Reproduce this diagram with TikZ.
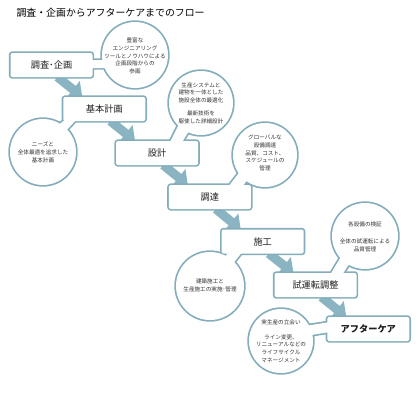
\documentclass[tikz,border=0pt]{standalone}
\usepackage{fontspec}
\setmainfont{Noto Sans CJK JP}
\usetikzlibrary{arrows.meta,backgrounds}
\definecolor{edgec}{HTML}{84ADBB}
\definecolor{flowc}{HTML}{8AB4C1}
\definecolor{inkc}{HTML}{1E1E1E}
\definecolor{notec}{HTML}{333333}
\begin{document}
\begin{tikzpicture}[x=1pt,y=-1pt,
  boxlabel/.style={minimum width=82pt,minimum height=24pt,inner sep=0pt,outer sep=0pt,
    text=inkc,font=\fontsize{9.2}{11}\selectfont},
  bubbletext/.style={align=center,inner sep=0pt,text=notec,font=\fontsize{5.6}{7.7}\selectfont},
  outline/.style={draw=edgec,line width=3.4pt,line join=round},
  filler/.style={fill=white},
  flowarrow/.style={draw=flowc,line width=9pt,-{Triangle[length=12pt,width=21pt]}},
]
\useasboundingbox (0,0) rectangle (420,400);

\node[anchor=west,text=black,font=\fontsize{9.9}{11}\selectfont] (title) at (13,13) {調査・企画からアフターケアまでのフロー};

% boxes
\node[boxlabel] (b1) at (51.5,65) {調査･企画};
\node[boxlabel] (b2) at (104.3,109) {基本計画};
\node[boxlabel] (b3) at (157.1,153) {設計};
\node[boxlabel] (b4) at (209.9,197) {調達};
\node[boxlabel] (b5) at (262.7,241.5) {施工};
\node[boxlabel] (b6) at (315.5,285) {試運転調整};
\node[boxlabel,font=\fontsize{9.2}{11}\selectfont\bfseries] (b7) at (368.3,329) {アフターケア};

% bubble texts
\node[bubbletext] (c1) at (135,56) {豊富な\\エンジニアリング\\ツールとノウハウによる\\企画段階からの\\参画};
\node[bubbletext] (c2) at (201,103) {生産システムと\\建物を一体とした\\施設全体の最適化\\[5pt]最新技術を\\駆使した詳細設計};
\node[bubbletext] (c3) at (43,152.5) {ニーズと\\全体最適を追求した\\基本計画};
\node[bubbletext] (c4) at (265,153) {グローバルな\\設備調達\\品質、コスト、\\スケジュールの\\管理};
\node[bubbletext] (c5) at (365,237) {各設備の検証\\[9pt]全体の試運転による\\品質管理};
\node[bubbletext] (c6) at (210,285.5) {建築施工と\\生産施工の実施･管理};
\node[bubbletext] (c7) at (281,341) {実生産の立会い\\[7pt]ライン変更、\\リニューアルなどの\\ライフサイクル\\マネージメント};

\begin{scope}[on background layer]
  % flow arrows
  \draw[flowarrow] ([xshift=6pt]b1.south) -- ([xshift=-22pt]b2.north);
  \draw[flowarrow] ([xshift=6pt]b2.south) -- ([xshift=-22pt]b3.north);
  \draw[flowarrow] ([xshift=6pt]b3.south) -- ([xshift=-22pt]b4.north);
  \draw[flowarrow] ([xshift=6pt]b4.south) -- ([xshift=-22pt]b5.north);
  \draw[flowarrow] ([xshift=6pt]b5.south) -- ([xshift=-22pt]b6.north);
  \draw[flowarrow] ([xshift=6pt]b6.south) -- ([xshift=-22pt]b7.north);

  % outlines (union of box, tail and circle)
  \foreach \b in {b1,b2,b3,b4,b5,b6,b7}{
    \draw[outline,rounded corners=2pt] (\b.north west) rectangle (\b.south east);
  }
  \draw[outline] (135,55) circle[radius=33pt];
  \draw[outline] (201,103) circle[radius=32pt];
  \draw[outline] (43,152) circle[radius=33pt];
  \draw[outline] (265,155) circle[radius=32pt];
  \draw[outline] (365,236) circle[radius=33pt];
  \draw[outline] (210,286) circle[radius=34pt];
  \draw[outline] (281,341) circle[radius=32pt];
  % tails
  \draw[outline] (88,60) -- (110,60) -- (112,68) -- (88,68) -- cycle;
  \draw[outline] (169,144) -- (180,122) -- (192,126) -- (181,144) -- cycle;
  \draw[outline] (67,118) -- (78,118) -- (62,135) -- (55,128) -- cycle;
  \draw[outline] (228,187) -- (242,187) -- (255,170) -- (245,165) -- cycle;
  \draw[outline] (330,275) -- (342,275) -- (355,255) -- (345,250) -- cycle;
  \draw[outline] (230,251) -- (243,251) -- (232,265) -- (220,262) -- cycle;
  \draw[outline] (330,322) -- (330,332) -- (305,336) -- (305,326) -- cycle;

  % fills
  \foreach \b in {b1,b2,b3,b4,b5,b6,b7}{
    \fill[filler,rounded corners=2pt] (\b.north west) rectangle (\b.south east);
  }
  \fill[filler] (135,55) circle[radius=33pt];
  \fill[filler] (201,103) circle[radius=32pt];
  \fill[filler] (43,152) circle[radius=33pt];
  \fill[filler] (265,155) circle[radius=32pt];
  \fill[filler] (365,236) circle[radius=33pt];
  \fill[filler] (210,286) circle[radius=34pt];
  \fill[filler] (281,341) circle[radius=32pt];
  \fill[filler] (88,60) -- (110,60) -- (112,68) -- (88,68) -- cycle;
  \fill[filler] (169,144) -- (180,122) -- (192,126) -- (181,144) -- cycle;
  \fill[filler] (67,118) -- (78,118) -- (62,135) -- (55,128) -- cycle;
  \fill[filler] (228,187) -- (242,187) -- (255,170) -- (245,165) -- cycle;
  \fill[filler] (330,275) -- (342,275) -- (355,255) -- (345,250) -- cycle;
  \fill[filler] (230,251) -- (243,251) -- (232,265) -- (220,262) -- cycle;
  \fill[filler] (330,322) -- (330,332) -- (305,336) -- (305,326) -- cycle;
\end{scope}
\end{tikzpicture}
\end{document}
